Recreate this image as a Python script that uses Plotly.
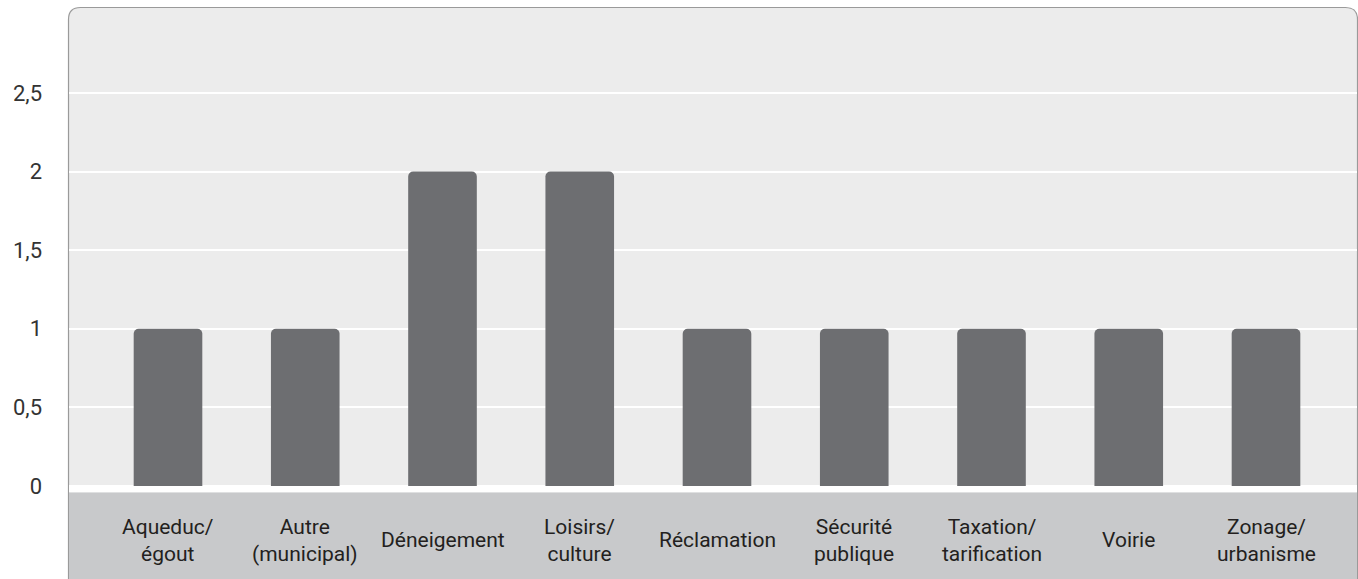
import plotly.graph_objects as go

# Categories and values
categories = ["Aqueduc/égout", "Autre (municipal)", "Déneigement", "Loisirs/culture",
              "Réclamation", "Sécurité publique", "Taxation/tarification", "Voirie",
              "Zonage/urbanisme"]
category_labels = ["Aqueduc/<br>égout", "Autre<br>(municipal)", "Déneigement",
                   "Loisirs/<br>culture", "Réclamation", "Sécurité<br>publique",
                   "Taxation/<br>tarification", "Voirie", "Zonage/<br>urbanisme"]
values = [1, 1, 2, 2, 1, 1, 1, 1, 1]

tick_values = [0, 0.5, 1, 1.5, 2, 2.5]
tick_labels = ["0", "0,5", "1", "1,5", "2", "2,5"]

W, H = 1358, 579
ML, MR, MT, MB = 69, 1, 8, 0
PW, PH = W - ML - MR, H - MT - MB

FONT = "Roboto"
BAR = "#6d6e71"
PANEL = "#ececec"
BAND = "#c8c9cb"
TEXT = "#231f20"


def px(x):
    return (x - ML) / PW


def py(y):
    return (H - MB - y) / PH


# rounded panel outline (top corners rounded)
left, right, top, bottom = 68.5, 1357.5, 7.5, 590
r = 12
panel_path = (
    f"M {px(left)},{py(bottom)} "
    f"L {px(left)},{py(top + r)} "
    f"Q {px(left)},{py(top)} {px(left + r)},{py(top)} "
    f"L {px(right - r)},{py(top)} "
    f"Q {px(right)},{py(top)} {px(right)},{py(top + r)} "
    f"L {px(right)},{py(bottom)} Z"
)

fig = go.Figure(
    go.Bar(
        x=categories,
        y=values,
        width=0.5,
        marker=dict(color=BAR, line=dict(width=0), cornerradius=5),
        hoverinfo="x+y",
    )
)

shapes = [
    dict(type="path", path=panel_path, xref="paper", yref="paper",
         fillcolor=PANEL, line=dict(color="#9a9a9a", width=1.2), layer="below"),
    dict(type="rect", xref="paper", yref="paper",
         x0=px(69), x1=px(1357), y0=py(492.5), y1=py(485.5),
         fillcolor="white", line=dict(width=0), layer="between"),
    dict(type="rect", xref="paper", yref="paper",
         x0=px(69), x1=px(1357), y0=py(582), y1=py(492.5),
         fillcolor=BAND, line=dict(width=0), layer="between"),
]

annotations = [
    dict(x=c, y=-0.345, xref="x", yref="y", text=t, showarrow=False,
         xanchor="center", yanchor="middle", align="center",
         font=dict(family=FONT, size=21, color=TEXT))
    for c, t in zip(categories, category_labels)
]

fig.update_layout(
    width=W, height=H,
    margin=dict(l=ML, r=MR, t=MT, b=MB, pad=0),
    paper_bgcolor="white",
    plot_bgcolor="rgba(0,0,0,0)",
    showlegend=False,
    shapes=shapes,
    annotations=annotations,
    bargap=0.5,
    xaxis=dict(
        type="category",
        range=[-0.7213, 8.663],
        showticklabels=False,
        showgrid=False, zeroline=False, showline=False, ticks="",
    ),
    yaxis=dict(
        range=[-0.592, 3.041],
        tickmode="array",
        tickvals=tick_values,
        ticktext=tick_labels,
        showgrid=True, gridcolor="white", gridwidth=2,
        zeroline=False, showline=False, ticks="",
        ticklabelstandoff=26,
        tickfont=dict(family=FONT, size=22, color="#333333"),
    ),
)

fig.write_html("out.html")
